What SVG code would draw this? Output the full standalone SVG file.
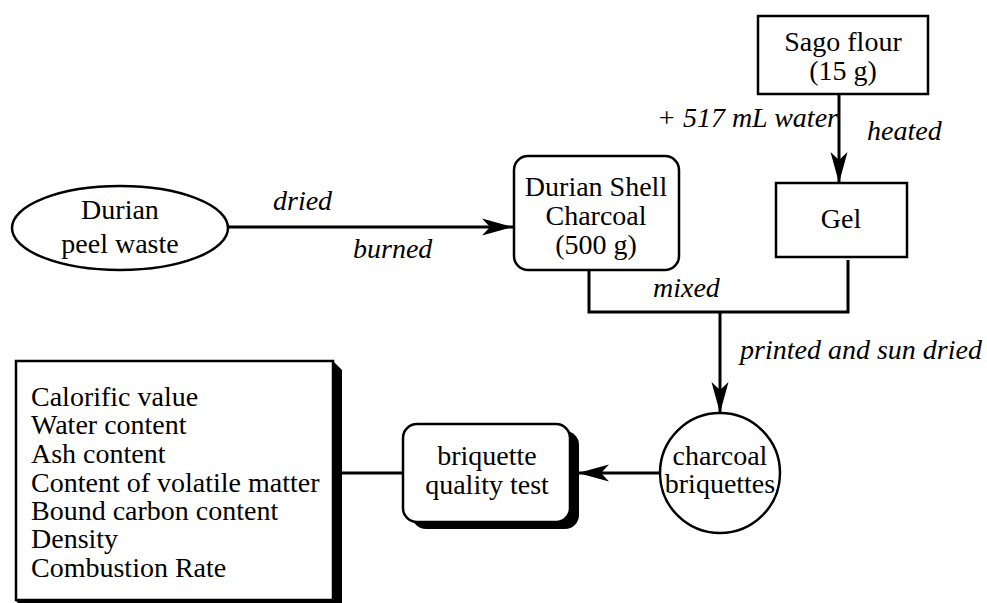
<svg xmlns="http://www.w3.org/2000/svg" width="987" height="603" viewBox="0 0 987 603">
<style>
  text { font-family: 'Liberation Serif', 'Tinos', 'DejaVu Serif', serif; font-size: 28px; fill: #000; }
  .c { text-anchor: middle; }
  .i { font-style: italic; }
  .box { fill: #fff; stroke: #000; stroke-width: 2.5; }
  .shadow { fill: #000; stroke: none; }
  .conn { fill: none; stroke: #000; stroke-width: 3; }
</style>
<defs>
  <marker id="arrow" markerUnits="userSpaceOnUse" viewBox="-31 -10 32 20" markerWidth="32" markerHeight="20" refX="0" refY="0" orient="auto">
    <path d="M0,0 L-31,-8.5 L-23,0 L-31,8.5 Z" fill="#000"/>
  </marker>
</defs>

<g id="connectors">
  <line class="conn" x1="228" y1="227" x2="513" y2="227" marker-end="url(#arrow)"/>
  <line class="conn" x1="839" y1="94" x2="839" y2="183" marker-end="url(#arrow)"/>
  <polyline class="conn" points="589,270 589,312 848,312 848,260"/>
  <line class="conn" x1="720" y1="312" x2="720" y2="413" marker-end="url(#arrow)"/>
  <line class="conn" x1="660" y1="473" x2="578" y2="473" marker-end="url(#arrow)"/>
  <line class="conn" x1="342" y1="473" x2="403" y2="473"/>
  <text class="i" x="273" y="210">dried</text>
  <text class="i" x="353" y="258">burned</text>
  <text class="i" x="657" y="127">+ 517 mL water</text>
  <text class="i" x="867" y="140">heated</text>
  <text class="i" x="653" y="297">mixed</text>
  <text class="i" x="740" y="359">printed and sun dried</text>
</g>

<g id="durian-peel-waste">
  <ellipse class="box" cx="120" cy="228" rx="108" ry="42"/>
  <text class="c" x="120" y="219">Durian</text>
  <text class="c" x="120" y="253">peel waste</text>
</g>

<g id="durian-shell-charcoal">
  <rect class="box" x="514" y="156" width="165" height="114" rx="14"/>
  <text class="c" x="596" y="196">Durian Shell</text>
  <text class="c" x="596" y="225">Charcoal</text>
  <text class="c" x="596" y="254">(500 g)</text>
</g>

<g id="sago-flour">
  <rect class="box" x="758" y="16" width="170" height="78"/>
  <text class="c" x="843" y="51">Sago flour</text>
  <text class="c" x="843" y="80">(15 g)</text>
</g>

<g id="gel">
  <rect class="box" x="776" y="183" width="131" height="74"/>
  <text class="c" x="841" y="228">Gel</text>
</g>

<g id="charcoal-briquettes">
  <circle class="box" cx="720" cy="473" r="60"/>
  <text class="c" x="720" y="465">charcoal</text>
  <text class="c" x="720" y="493">briquettes</text>
</g>

<g id="briquette-quality-test">
  <rect class="shadow" x="412" y="431" width="167" height="98" rx="14"/>
  <rect class="box" x="403" y="424" width="167" height="98" rx="14"/>
  <text class="c" x="487" y="465">briquette</text>
  <text class="c" x="487" y="494">quality test</text>
</g>

<g id="quality-parameters">
  <polygon class="shadow" points="333,361 342,370 342,610 25,610 16,601"/>
  <rect class="box" x="16" y="361" width="317" height="239"/>
  <text x="31" y="406">Calorific value</text>
  <text x="31" y="434">Water content</text>
  <text x="31" y="463">Ash content</text>
  <text x="31" y="492">Content of volatile matter</text>
  <text x="31" y="520">Bound carbon content</text>
  <text x="31" y="548">Density</text>
  <text x="31" y="577">Combustion Rate</text>
</g>
</svg>
